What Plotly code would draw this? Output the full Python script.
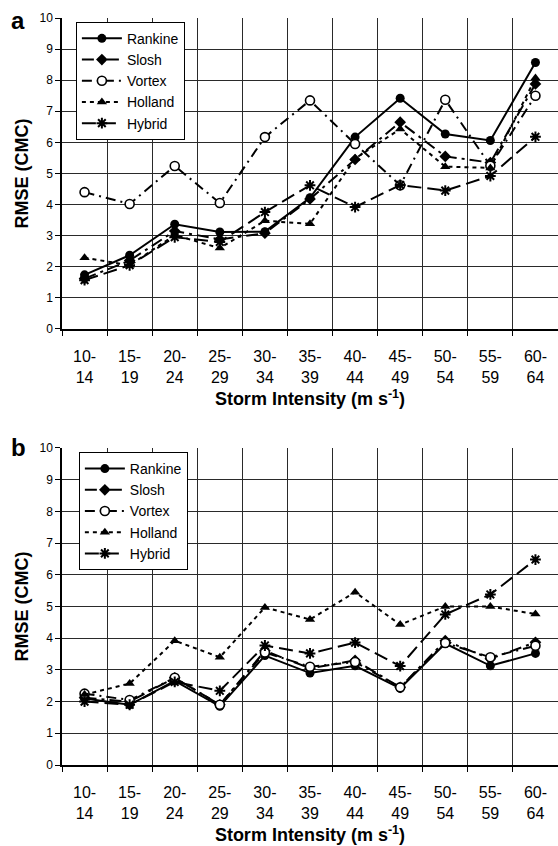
import plotly.graph_objects as go

categories = ["10-<br>14", "15-<br>19", "20-<br>24", "25-<br>29", "30-<br>34", "35-<br>39",
              "40-<br>44", "45-<br>49", "50-<br>54", "55-<br>59", "60-<br>64"]

# Panel a
a_rankine = [1.74, 2.37, 3.37, 3.12, 3.13, 4.22, 6.17, 7.42, 6.27, 6.06, 8.57]
a_slosh   = [1.62, 2.20, 3.15, 2.88, 3.08, 4.18, 5.45, 6.65, 5.55, 5.35, 7.88]
a_vortex  = [4.40, 4.02, 5.24, 4.05, 6.17, 7.35, 5.95, 4.62, 7.37, 5.25, 7.50]
a_holland = [2.29, 2.05, 3.02, 2.60, 3.48, 3.38, 5.48, 6.43, 5.22, 5.18, 8.07]
a_hybrid  = [1.57, 2.05, 2.95, 2.80, 3.76, 4.62, 3.92, 4.63, 4.45, 4.92, 6.18]

# Panel b
b_rankine = [2.10, 1.90, 2.65, 1.85, 3.45, 2.90, 3.13, 2.42, 3.83, 3.13, 3.52]
b_slosh   = [2.12, 2.00, 2.75, 1.90, 3.60, 3.05, 3.30, 2.45, 3.92, 3.35, 3.87]
b_vortex  = [2.25, 2.05, 2.75, 1.90, 3.55, 3.10, 3.25, 2.45, 3.85, 3.40, 3.76]
b_holland = [2.22, 2.57, 3.92, 3.40, 4.97, 4.59, 5.45, 4.43, 5.00, 5.00, 4.76]
b_hybrid  = [2.00, 1.90, 2.62, 2.34, 3.77, 3.52, 3.86, 3.12, 4.75, 5.38, 6.48]

y_ticks = list(range(0, 11))

names = ["Rankine", "Slosh", "Vortex", "Holland", "Hybrid"]
styles = {
    "Rankine": dict(dash="solid", symbol="circle", mcolor="black", mline=0),
    "Slosh": dict(dash="12px,5px,3px,5px", symbol="diamond", mcolor="black", mline=0),
    "Vortex": dict(dash="10px,5px,2px,5px", symbol="circle", mcolor="white", mline=1.6),
    "Holland": dict(dash="4px,4px", symbol="triangle-up", mcolor="black", mline=0),
    "Hybrid": dict(dash="14px,6px", symbol="asterisk-open", mcolor="black", mline=2),
}

panels = [
    ("x", "y", "legend", [a_rankine, a_slosh, a_vortex, a_holland, a_hybrid]),
    ("x2", "y2", "legend2", [b_rankine, b_slosh, b_vortex, b_holland, b_hybrid]),
]

fig = go.Figure()
for xa, ya, leg, series in panels:
    for name, vals in zip(names, series):
        s = styles[name]
        fig.add_trace(go.Scatter(
            x=categories, y=vals, name=name, mode="lines+markers",
            xaxis=xa, yaxis=ya, legend=leg,
            line=dict(color="black", width=2, dash=s["dash"]),
            marker=dict(symbol=s["symbol"], size=9, color=s["mcolor"],
                        line=dict(color="black", width=s["mline"])),
        ))

font_family = "Liberation Sans, Arial, sans-serif"

xaxis_common = dict(
    type="category", categoryorder="array", categoryarray=categories,
    range=[-0.5, 10.5], tickson="boundaries", ticks="outside", ticklen=5,
    tickcolor="black", showgrid=True, gridcolor="#2a2a2a", gridwidth=1,
    showline=True, linecolor="black", linewidth=1.5,
    tickfont=dict(size=16, color="black", family=font_family),
    ticklabelstandoff=12,
    title=dict(text="<b>Storm Intensity (m s<sup>-1</sup>)</b>", standoff=8,
               font=dict(size=18, color="black", family=font_family)),
    zeroline=False,
)
yaxis_common = dict(
    range=[0, 10], tickvals=y_ticks, ticks="outside", ticklen=5, tickcolor="black",
    showgrid=True, gridcolor="#2a2a2a", gridwidth=1,
    showline=True, linecolor="black", linewidth=1.5, zeroline=False,
    tickfont=dict(size=12, color="black", family=font_family),
    title=dict(text="<b>RMSE (CMC)</b>", standoff=6,
               font=dict(size=18, color="black", family=font_family)),
)

legend_common = dict(
    bgcolor="white", bordercolor="black", borderwidth=1,
    font=dict(size=14, color="black", family=font_family),
    xanchor="left", yanchor="top", tracegroupgap=0, itemwidth=40,
)

fig.update_layout(
    width=558, height=846,
    margin=dict(l=62, r=0, t=18, b=81),
    paper_bgcolor="white", plot_bgcolor="white",
    font=dict(family=font_family, color="black"),
    xaxis=dict(domain=[0, 1], anchor="y", **xaxis_common),
    yaxis=dict(domain=[0.5837, 1.0], anchor="x", **yaxis_common),
    xaxis2=dict(domain=[0, 1], anchor="y2", **xaxis_common),
    yaxis2=dict(domain=[0.0, 0.4244], anchor="x2", **yaxis_common),
    legend=dict(x=0.028, y=0.995, **legend_common),
    legend2=dict(x=0.034, y=0.419, **legend_common),
    annotations=[
        dict(text="<b>a</b>", x=-0.088, y=0.997, xref="paper", yref="paper",
             showarrow=False, xanchor="center", yanchor="middle",
             font=dict(size=24, color="black", family=font_family)),
        dict(text="<b>b</b>", x=-0.088, y=0.4244, xref="paper", yref="paper",
             showarrow=False, xanchor="center", yanchor="middle",
             font=dict(size=24, color="black", family=font_family)),
    ],
)

fig.write_html("out.html")
